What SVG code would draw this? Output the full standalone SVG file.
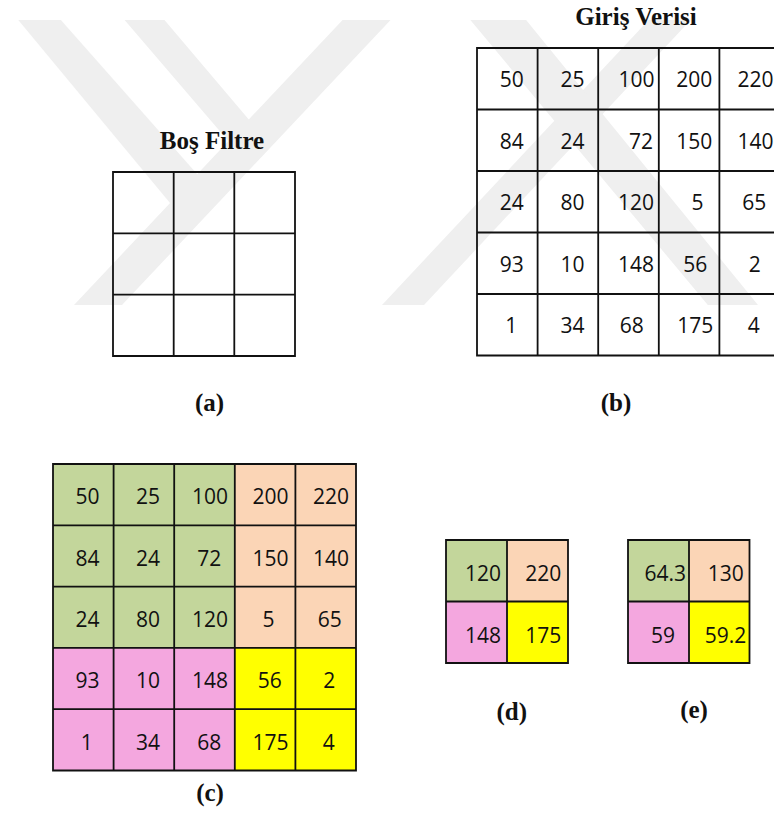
<svg xmlns="http://www.w3.org/2000/svg" width="774" height="838" viewBox="0 0 774 838">
<style>
.title{font-family:"Liberation Serif","Times New Roman",serif;font-weight:bold;font-size:25px;text-anchor:middle;fill:#111}
.lab{font-family:"Liberation Serif","Times New Roman",serif;font-weight:bold;font-size:25px;text-anchor:middle;fill:#111}
.num{font-family:"Open Sans","Liberation Sans",sans-serif;font-size:21px;text-anchor:middle;fill:#111}
.grid{fill:none;stroke:#111;stroke-width:1.8}
.wm{fill:#efefef}
.g{fill:#c3d69b}.p{fill:#fbd5b6}.k{fill:#f4a7df}.y{fill:#ffff00}
</style>
<defs>
<clipPath id="wmclip"><rect x="0" y="20" width="774" height="285"/></clipPath>
</defs>
<rect x="0" y="0" width="774" height="838" fill="#ffffff"/>
<g id="watermark" clip-path="url(#wmclip)">
<polygon class="wm" points="74,305 122,305 400,10 352,10"/>
<polygon class="wm" points="10,10 52,10 220,200 180,215"/>
<polygon class="wm" points="116,10 156,10 262,135 236,150"/>
<polygon class="wm" points="382,305 424,305 700,10 658,10"/>
<polygon class="wm" points="462,10 518,10 762,310 712,310"/>
</g>
<g id="title-filter"><text class="title" x="212" y="149">Boş Filtre</text></g>
<g id="title-input"><text class="title" x="636" y="25">Giriş Verisi</text></g>
<g id="filter">
<path class="grid" d="M113,172H295V356H113Z M173.7,172V356 M234.3,172V356 M113,233.3H295 M113,294.7H295"/>
</g>
<g id="input">
<path class="grid" d="M477,48H780V355.5H477Z M537.6,48V355.5 M598.2,48V355.5 M658.8,48V355.5 M719.4,48V355.5 M477,109.5H780 M477,171H780 M477,232.5H780 M477,294H780"/>
<text class="num" x="511.7" y="87">50</text><text class="num" x="572.5" y="87">25</text><text class="num" x="636.5" y="87">100</text><text class="num" x="694.2" y="87">200</text><text class="num" x="755.5" y="87">220</text>
<text class="num" x="511.7" y="148.5">84</text><text class="num" x="572.5" y="148.5">24</text><text class="num" x="641" y="148.5">72</text><text class="num" x="694.2" y="148.5">150</text><text class="num" x="755.5" y="148.5">140</text>
<text class="num" x="511.7" y="210">24</text><text class="num" x="572.5" y="210">80</text><text class="num" x="636" y="210">120</text><text class="num" x="697.5" y="210">5</text><text class="num" x="754.2" y="210">65</text>
<text class="num" x="511.7" y="271.5">93</text><text class="num" x="572.5" y="271.5">10</text><text class="num" x="636" y="271.5">148</text><text class="num" x="695.3" y="271.5">56</text><text class="num" x="754.7" y="271.5">2</text>
<text class="num" x="511.2" y="333">1</text><text class="num" x="572.5" y="333">34</text><text class="num" x="631.7" y="333">68</text><text class="num" x="695.3" y="333">175</text><text class="num" x="753.8" y="333">4</text>
</g>
<g id="pooled-regions">
<rect class="g" x="53" y="464" width="181.8" height="183.9"/>
<rect class="p" x="234.8" y="464" width="121.2" height="183.9"/>
<rect class="k" x="53" y="647.9" width="181.8" height="122.6"/>
<rect class="y" x="234.8" y="647.9" width="121.2" height="122.6"/>
<path class="grid" d="M53,464H356V770.5H53Z M113.6,464V770.5 M174.2,464V770.5 M234.8,464V770.5 M295.4,464V770.5 M53,525.3H356 M53,586.6H356 M53,647.9H356 M53,709.2H356"/>
<text class="num" x="87.5" y="504">50</text><text class="num" x="148" y="504">25</text><text class="num" x="210" y="504">100</text><text class="num" x="270.5" y="504">200</text><text class="num" x="331" y="504">220</text>
<text class="num" x="87.5" y="565.5">84</text><text class="num" x="148" y="565.5">24</text><text class="num" x="209.2" y="565.5">72</text><text class="num" x="270.5" y="565.5">150</text><text class="num" x="331" y="565.5">140</text>
<text class="num" x="87.5" y="626.8">24</text><text class="num" x="148" y="626.8">80</text><text class="num" x="210" y="626.8">120</text><text class="num" x="268.5" y="626.8">5</text><text class="num" x="329.7" y="626.8">65</text>
<text class="num" x="87.5" y="688">93</text><text class="num" x="148" y="688">10</text><text class="num" x="210" y="688">148</text><text class="num" x="269.8" y="688">56</text><text class="num" x="329.2" y="688">2</text>
<text class="num" x="86.7" y="749.5">1</text><text class="num" x="148" y="749.5">34</text><text class="num" x="209.2" y="749.5">68</text><text class="num" x="270.5" y="749.5">175</text><text class="num" x="328.8" y="749.5">4</text>
</g>
<g id="max-pool">
<rect class="g" x="446" y="540" width="61" height="61.5"/>
<rect class="p" x="507" y="540" width="61" height="61.5"/>
<rect class="k" x="446" y="601.5" width="61" height="61.5"/>
<rect class="y" x="507" y="601.5" width="61" height="61.5"/>
<path class="grid" d="M446,540H568V663H446Z M507,540V663 M446,601.5H568"/>
<text class="num" x="483" y="581">120</text><text class="num" x="543.3" y="581">220</text>
<text class="num" x="483" y="642.5">148</text><text class="num" x="543.3" y="642.5">175</text>
</g>
<g id="avg-pool">
<rect class="g" x="628" y="540" width="61" height="61.5"/>
<rect class="p" x="689" y="540" width="60.5" height="61.5"/>
<rect class="k" x="628" y="601.5" width="61" height="61.5"/>
<rect class="y" x="689" y="601.5" width="60.5" height="61.5"/>
<path class="grid" d="M628,540H749.5V663H628Z M689,540V663 M628,601.5H749.5"/>
<text class="num" x="665.2" y="581">64.3</text><text class="num" x="725.8" y="581">130</text>
<text class="num" x="663" y="642.5">59</text><text class="num" x="725.5" y="642.5">59.2</text>
</g>
<g id="labels">
<text class="lab" x="209.5" y="411">(a)</text>
<text class="lab" x="616" y="411">(b)</text>
<text class="lab" x="210" y="801">(c)</text>
<text class="lab" x="511.7" y="720">(d)</text>
<text class="lab" x="694" y="718">(e)</text>
</g>
</svg>
